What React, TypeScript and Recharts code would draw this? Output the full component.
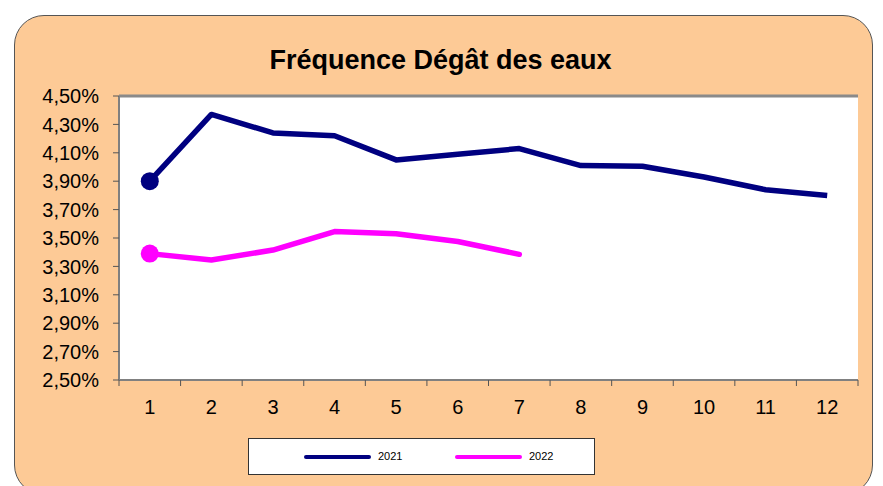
import React from 'react';
import { LineChart, Line, XAxis, YAxis, CartesianGrid, ReferenceLine } from 'recharts';

const months = ['1', '2', '3', '4', '5', '6', '7', '8', '9', '10', '11', '12'];
const freq2021 = [3.9, 4.37, 4.24, 4.22, 4.05, 4.09, 4.13, 4.01, 4.005, 3.93, 3.84, 3.8];
const freq2022 = [3.39, 3.345, 3.415, 3.545, 3.53, 3.475, 3.385];
const yTicks = [2.5, 2.7, 2.9, 3.1, 3.3, 3.5, 3.7, 3.9, 4.1, 4.3, 4.5];
const seriesNames = ['2021', '2022'];
const title = 'Fréquence Dégât des eaux';

const data = months.map((m, i) => ({
  month: m,
  a: freq2021[i],
  b: i < freq2022.length ? freq2022[i] : null,
}));

const FONT = 'Arial, "Liberation Sans", sans-serif';
const W = 883;
const H = 486;
const PLOT_LEFT = 119;
const PLOT_RIGHT = 858;
const HALF_BAND = (PLOT_RIGHT - PLOT_LEFT) / months.length / 2;

const XTick = (props: any) => {
  const { x, y, payload, index } = props;
  return (
    <g>
      <text x={x} y={y + 34} textAnchor="middle" fontSize={20} fontFamily={FONT} fill="#000">
        {payload.value}
      </text>
      <line x1={x + HALF_BAND} x2={x + HALF_BAND} y1={y} y2={y + 6} stroke="#555" strokeWidth={1} />
      {index === 0 && (
        <line x1={x - HALF_BAND} x2={x - HALF_BAND} y1={y} y2={y + 6} stroke="#555" strokeWidth={1} />
      )}
    </g>
  );
};

const makeDot = (color: string) => (props: any) => {
  const { cx, cy, index } = props;
  if (index === 0 && cx != null && cy != null) {
    return <circle key={`d${index}`} cx={cx} cy={cy} r={9} fill={color} stroke="none" />;
  }
  return <g key={`d${index}`} />;
};

export default function App() {
  return (
    <div style={{ position: 'absolute', left: 0, top: 0, width: W, height: H, overflow: 'hidden', background: '#fff' }}>
      <div
        style={{
          position: 'absolute',
          left: 14,
          top: 15,
          width: 859,
          height: 480,
          background: '#FDCA96',
          border: '1.5px solid #555',
          borderRadius: 30,
          boxSizing: 'border-box',
        }}
      />
      <div
        style={{
          position: 'absolute',
          left: 0,
          top: 47,
          width: 881,
          textAlign: 'center',
          fontFamily: FONT,
          fontWeight: 'bold',
          fontSize: 27,
          lineHeight: '27px',
          color: '#000',
        }}
      >
        {title}
      </div>
      <div style={{ position: 'absolute', left: 0, top: 0 }}>
        <LineChart width={W} height={H} data={data} margin={{ top: 96, right: 25, left: 0, bottom: 66 }}>
          <CartesianGrid vertical={false} stroke="#808080" strokeWidth={1.3} fill="#fff" />
          <XAxis
            dataKey="month"
            height={40}
            tickLine={false}
            tickSize={0}
            tickMargin={0}
            padding={{ left: HALF_BAND, right: HALF_BAND }}
            axisLine={{ stroke: '#808080', strokeWidth: 2 }}
            tick={<XTick />}
            interval={0}
          />
          <YAxis
            yAxisId="l"
            width={PLOT_LEFT}
            domain={[2.5, 4.5]}
            ticks={yTicks}
            type="number"
            allowDataOverflow
            tickFormatter={(v: number) => v.toFixed(2).replace('.', ',') + '%'}
            tick={{ fontSize: 20, fontFamily: FONT, fill: '#000' }}
            tickSize={6}
            tickMargin={14}
            tickLine={{ stroke: '#555' }}
            axisLine={{ stroke: '#808080', strokeWidth: 2 }}
          />
          <YAxis
            yAxisId="r"
            orientation="right"
            width={0}
            domain={[2.5, 4.5]}
            type="number"
            tick={false}
            tickLine={false}
            axisLine={{ stroke: '#8a8a8a', strokeWidth: 4 }}
          />
          <ReferenceLine yAxisId="l" y={4.5} stroke="#8a8a8a" strokeWidth={3} />
          <Line
            yAxisId="l"
            dataKey="a"
            name={seriesNames[0]}
            stroke="#000080"
            strokeWidth={5.5}
            dot={makeDot('#000080')}
            activeDot={false}
            isAnimationActive={false}
            strokeLinejoin="round"
          />
          <Line
            yAxisId="l"
            dataKey="b"
            name={seriesNames[1]}
            stroke="#FF00FF"
            strokeWidth={5.5}
            dot={makeDot('#FF00FF')}
            activeDot={false}
            isAnimationActive={false}
            strokeLinejoin="round"
            strokeLinecap="round"
          />
        </LineChart>
      </div>
      <div
        style={{
          position: 'absolute',
          left: 248,
          top: 438,
          width: 347,
          height: 37,
          background: '#fff',
          border: '1px solid #333',
          boxSizing: 'border-box',
          fontFamily: FONT,
          fontSize: 11,
          color: '#000',
        }}
      >
        <div style={{ position: 'absolute', left: 55, top: 16, width: 67, height: 4, background: '#000080', borderRadius: 2 }} />
        <div style={{ position: 'absolute', left: 129, top: 11 }}>{seriesNames[0]}</div>
        <div style={{ position: 'absolute', left: 206, top: 16, width: 67, height: 4, background: '#FF00FF', borderRadius: 2 }} />
        <div style={{ position: 'absolute', left: 280, top: 11 }}>{seriesNames[1]}</div>
      </div>
    </div>
  );
}
